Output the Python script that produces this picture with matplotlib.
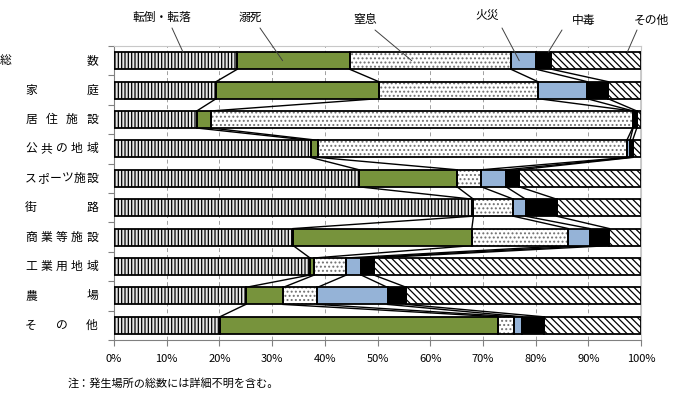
import numpy as np
import matplotlib.pyplot as plt
from matplotlib.transforms import blended_transform_factory

plt.rcParams['font.family'] = ['Noto Sans CJK JP', 'DejaVu Sans']
plt.rcParams['hatch.linewidth'] = 0.9

# 発生場所
places = ['総数', '家庭', '居住施設', '公共の地域', 'スポーツ施設',
          '街路', '商業等施設', '工業用地域', '農場', 'その他']
causes = ['転倒・転落', '溺死', '窒息', '火災', '中毒', 'その他']

# 構成比 (%)
tentou = [23.4, 19.4, 15.7, 37.3, 46.5, 68.0, 34.0, 37.2, 25.0, 20.1]
dekishi = [21.3, 30.8, 2.7, 1.5, 18.6, 0.2, 33.9, 0.8, 7.1, 52.8]
chissoku = [30.6, 30.2, 80.0, 58.5, 4.6, 7.6, 18.3, 6.1, 6.5, 3.0]
kasai = [4.8, 9.3, 0.1, 0.6, 4.7, 2.3, 4.1, 2.8, 13.3, 1.6]
chudoku = [2.9, 4.0, 0.7, 0.5, 2.5, 5.9, 3.7, 2.4, 3.6, 4.0]
sonota = [17.0, 6.3, 0.8, 1.6, 23.1, 16.0, 6.0, 50.7, 44.5, 18.5]

series = [tentou, dekishi, chissoku, kasai, chudoku, sonota]
faces = ['#e6e6e6', '#77933c', 'white', '#95b3d7', 'black', 'white']
hatches = ['|||||', None, '....', None, None, '\\\\\\\\\\']
hatch_cols = ['black', None, '#707070', None, None, 'black']

fig = plt.figure(figsize=(6.73, 3.94), dpi=100)
ax = fig.add_axes([114 / 673, 1 - 340 / 394, 527 / 673, 294 / 394])

y = np.arange(len(places))
h = 0.58
left = np.zeros(len(places))
for vals, fc, ht, hc in zip(series, faces, hatches, hatch_cols):
    vals = np.array(vals)
    ax.barh(y, vals, left=left, height=h, color=fc, linewidth=0, zorder=3)
    if ht:
        ax.barh(y, vals, left=left, height=h, color='none', hatch=ht,
                edgecolor=hc, linewidth=0, zorder=3)
    ax.barh(y, vals, left=left, height=h, color='none',
            edgecolor='black', linewidth=1.3, zorder=4)
    left = left + vals

# 系列線
cum = np.cumsum(np.array(series), axis=0)
for k in range(cum.shape[0]):
    for i in range(len(places) - 1):
        ax.plot([cum[k, i], cum[k, i + 1]], [i + h / 2, i + 1 - h / 2],
                color='black', lw=1.0, zorder=2)

ax.set_xlim(0, 100)
ax.set_ylim(len(places) - 0.5, -0.5)
ax.set_xticks(np.arange(0, 101, 10))
ax.set_xticklabels([f'{v}%' for v in range(0, 101, 10)], fontsize=8)
ax.set_yticks(np.arange(-0.5, len(places), 1))
ax.set_yticklabels([])
ax.tick_params(axis='x', length=4, color='#808080', pad=6)
ax.tick_params(axis='y', length=4, color='#808080')
ax.grid(axis='x', linestyle=(0, (4, 3)), color='#a0a0a0', lw=0.7, zorder=0)
for s in ['top', 'right']:
    ax.spines[s].set_color('#c8c8c8')
for s in ['left', 'bottom']:
    ax.spines[s].set_color('#808080')

# 縦軸ラベル (均等割付)
tr = blended_transform_factory(fig.transFigure, ax.transData)
for i, name in enumerate(places):
    x0 = 6 if i == 0 else 31
    x1 = 92
    n = len(name)
    for j, ch in enumerate(name):
        px = x0 + (x1 - x0) * j / (n - 1)
        ax.text(px / 673, i, ch, transform=tr, ha='center', va='center',
                fontsize=8.5, clip_on=False)

# 凡例の引き出し線
label_pos = [(162, 17), (250, 17), (365, 20), (487, 16), (584, 20), (651, 20)]
line_start = [(172, 28), (260, 28), (375, 30), (502, 28), (562, 30), (637, 30)]
targets = [(13.1, -h / 2), (32.0, 0.0), (56.5, 0.0), (76.9, 0.0),
           (82.4, -h / 2), (97.4, -h / 2)]
for name, (lx, ly), (sx, sy), xy in zip(causes, label_pos, line_start, targets):
    fig.text(lx / 673, 1 - ly / 394, name, ha='center', va='center', fontsize=8.5)
    ax.annotate('', xy=xy, xycoords='data',
                xytext=(sx, 394 - sy), textcoords='figure pixels',
                arrowprops=dict(arrowstyle='-', color='#404040', lw=0.7,
                                shrinkA=0, shrinkB=0), zorder=5)

fig.text(68 / 673, 1 - 383 / 394, '注：発生場所の総数には詳細不明を含む。',
         ha='left', va='center', fontsize=8)

fig.savefig('out.png', dpi=100)
